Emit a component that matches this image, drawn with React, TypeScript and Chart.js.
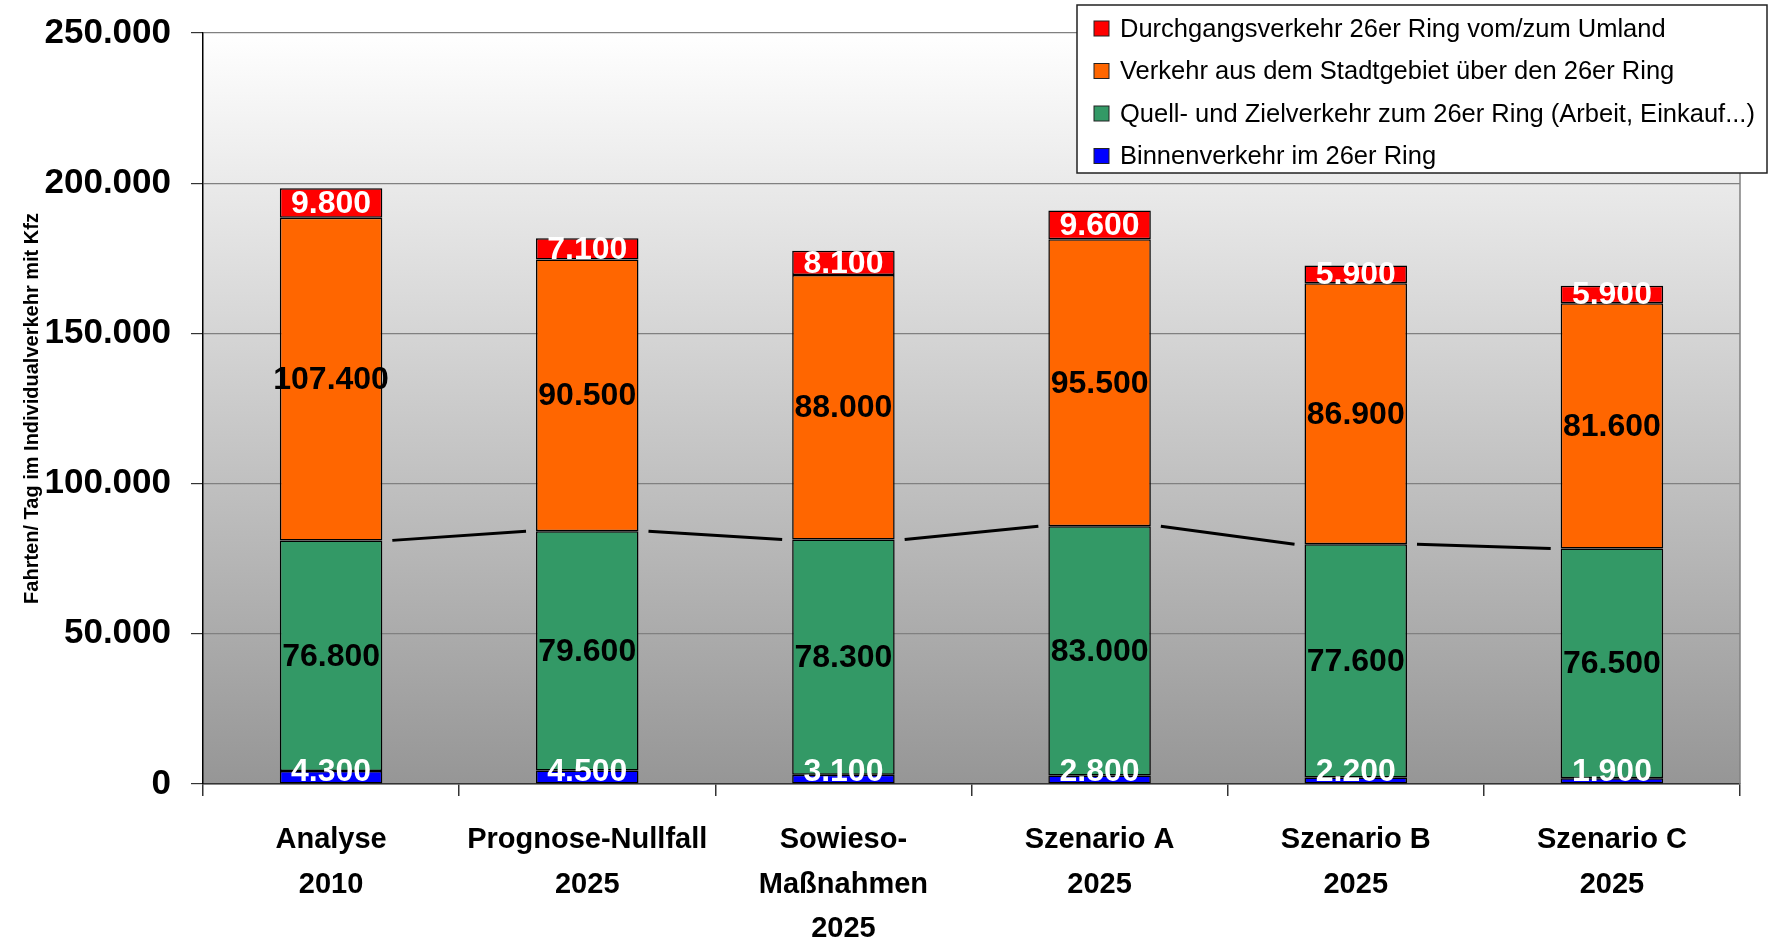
import React, { useEffect, useRef } from "react";
import { Chart, registerables } from "chart.js";

Chart.register(...registerables);

// Scenario categories (multi-line axis labels)
const categories: string[][] = [
  ["Analyse", "2010"],
  ["Prognose-Nullfall", "2025"],
  ["Sowieso-", "Maßnahmen", "2025"],
  ["Szenario A", "2025"],
  ["Szenario B", "2025"],
  ["Szenario C", "2025"],
];

// Trips per day, stacked from the bottom up
const binnenverkehr = [4300, 4500, 3100, 2800, 2200, 1900];
const quellZielverkehr = [76800, 79600, 78300, 83000, 77600, 76500];
const stadtgebietVerkehr = [107400, 90500, 88000, 95500, 86900, 81600];
const durchgangsverkehr = [9800, 7100, 8100, 9600, 5900, 5900];

const seriesNames = [
  "Binnenverkehr im 26er Ring",
  "Quell- und Zielverkehr zum 26er Ring (Arbeit, Einkauf...)",
  "Verkehr aus dem Stadtgebiet über den 26er Ring",
  "Durchgangsverkehr 26er Ring vom/zum Umland",
];
const seriesColors = ["#0000ff", "#339966", "#ff6600", "#ff0000"];
const labelColors = ["#ffffff", "#000000", "#000000", "#ffffff"];

const yMin = 0;
const yMax = 250000;
const yStep = 50000;
const yTitle = "Fahrten/ Tag im Individualverkehr mit Kfz";

const FONT = "'Liberation Sans', Arial, Helvetica, sans-serif";

const fmt = (v: number) =>
  String(Math.round(v)).replace(/\B(?=(\d{3})+(?!\d))/g, ".");

// Gray gradient behind the plot area plus right frame edge
const plotBackground = {
  id: "plotBackground",
  beforeDraw(chart: any) {
    const { ctx, chartArea: a } = chart;
    ctx.save();
    const g = ctx.createLinearGradient(0, a.top, 0, a.bottom);
    g.addColorStop(0, "#ffffff");
    g.addColorStop(1, "#969696");
    ctx.fillStyle = g;
    ctx.fillRect(a.left, a.top, a.right - a.left, a.bottom - a.top);
    ctx.restore();
  },
  beforeDatasetsDraw(chart: any) {
    const { ctx, chartArea: a } = chart;
    ctx.save();
    ctx.strokeStyle = "#808080";
    ctx.lineWidth = 1.5;
    ctx.beginPath();
    ctx.moveTo(a.right, a.top);
    ctx.lineTo(a.right, a.bottom);
    ctx.stroke();
    ctx.restore();
  },
};

// Connector lines between the tops of the green segments, plus value labels
const segmentDecorations = {
  id: "segmentDecorations",
  afterDatasetsDraw(chart: any) {
    const { ctx, chartArea: a } = chart;
    ctx.save();

    const green = chart.getDatasetMeta(1).data;
    ctx.strokeStyle = "#000000";
    ctx.lineWidth = 3;
    for (let i = 0; i < green.length - 1; i++) {
      const p = green[i].getProps(["x", "y", "width"], true);
      const q = green[i + 1].getProps(["x", "y", "width"], true);
      ctx.beginPath();
      ctx.moveTo(p.x + p.width / 2 + 10, p.y);
      ctx.lineTo(q.x - q.width / 2 - 10, q.y);
      ctx.stroke();
    }

    ctx.font = `bold 32px ${FONT}`;
    ctx.textAlign = "center";
    ctx.textBaseline = "middle";
    chart.data.datasets.forEach((ds: any, di: number) => {
      const meta = chart.getDatasetMeta(di);
      meta.data.forEach((el: any, i: number) => {
        const { x, y, base } = el.getProps(["x", "y", "base"], true);
        let cy = (y + base) / 2;
        cy = Math.min(cy, a.bottom - 13);
        ctx.fillStyle = labelColors[di];
        ctx.fillText(fmt(ds.data[i]), x, cy + 1);
      });
    });
    ctx.restore();
  },
};

// Boxed legend in the upper right, top series first
const boxedLegend = {
  id: "boxedLegend",
  afterDraw(chart: any) {
    const { ctx } = chart;
    const left = 1077;
    const top = 5;
    const right = 1767;
    const bottom = 173;
    ctx.save();
    ctx.fillStyle = "#ffffff";
    ctx.fillRect(left, top, right - left, bottom - top);
    ctx.strokeStyle = "#222222";
    ctx.lineWidth = 1.5;
    ctx.strokeRect(left, top, right - left, bottom - top);
    ctx.font = `25.5px ${FONT}`;
    ctx.textAlign = "left";
    ctx.textBaseline = "middle";
    const rows = [3, 2, 1, 0];
    rows.forEach((si, r) => {
      const cy = 28.5 + r * 42.5;
      ctx.fillStyle = seriesColors[si];
      ctx.fillRect(1094, cy - 7.5, 15, 15);
      ctx.strokeStyle = "#222222";
      ctx.lineWidth = 1;
      ctx.strokeRect(1094, cy - 7.5, 15, 15);
      ctx.fillStyle = "#000000";
      ctx.fillText(seriesNames[si], 1120, cy + 1);
    });
    ctx.restore();
  },
};

export default function App() {
  const canvasRef = useRef<HTMLCanvasElement | null>(null);

  useEffect(() => {
    if (!canvasRef.current) return;
    const values = [binnenverkehr, quellZielverkehr, stadtgebietVerkehr, durchgangsverkehr];
    const chart = new Chart(canvasRef.current, {
      type: "bar",
      data: {
        labels: categories,
        datasets: values.map((data, i) => ({
          label: seriesNames[i],
          data,
          backgroundColor: seriesColors[i],
          borderColor: "#000000",
          borderWidth: 1.5,
          borderSkipped: false,
          categoryPercentage: 1,
          barPercentage: 0.4,
        })),
      },
      options: {
        responsive: false,
        animation: false,
        devicePixelRatio: 1,
        layout: { padding: { top: 33, right: 29, left: 0, bottom: 0 } },
        plugins: {
          legend: { display: false },
          tooltip: { enabled: false },
        },
        scales: {
          x: {
            stacked: true,
            grid: {
              display: true,
              drawOnChartArea: false,
              offset: true,
              color: "#333333",
              tickLength: 12,
              lineWidth: 1.5,
            },
            border: { color: "#333333", width: 1.5 },
            ticks: {
              color: "#000000",
              font: { family: FONT, size: 29, weight: "bold", lineHeight: 1.53 },
              padding: 22,
              maxRotation: 0,
              autoSkip: false,
            },
            afterFit(scale: any) {
              scale.height = 156;
              scale.paddingLeft = 0;
              scale.paddingRight = 0;
            },
          },
          y: {
            stacked: true,
            min: yMin,
            max: yMax,
            ticks: {
              stepSize: yStep,
              color: "#000000",
              font: { family: FONT, size: 35, weight: "bold" },
              padding: 20,
              callback: (v: any) => fmt(Number(v)),
            },
            grid: {
              color: "#808080",
              lineWidth: 1.2,
              tickLength: 12,
              tickColor: "#333333",
            },
            border: { color: "#000000", width: 1.5 },
            title: {
              display: true,
              text: yTitle,
              color: "#000000",
              font: { family: FONT, size: 20, weight: "bold" },
              padding: { top: 20, bottom: 0 },
            },
            afterFit(scale: any) {
              scale.width = 203;
              scale.paddingTop = 0;
              scale.paddingBottom = 0;
            },
          },
        },
      },
      plugins: [plotBackground, segmentDecorations, boxedLegend],
    });
    return () => chart.destroy();
  }, []);

  return (
    <div
      style={{
        position: "absolute",
        left: 0,
        top: 0,
        width: 1769,
        height: 940,
        background: "#ffffff",
      }}
    >
      <canvas ref={canvasRef} width={1769} height={940} />
    </div>
  );
}
